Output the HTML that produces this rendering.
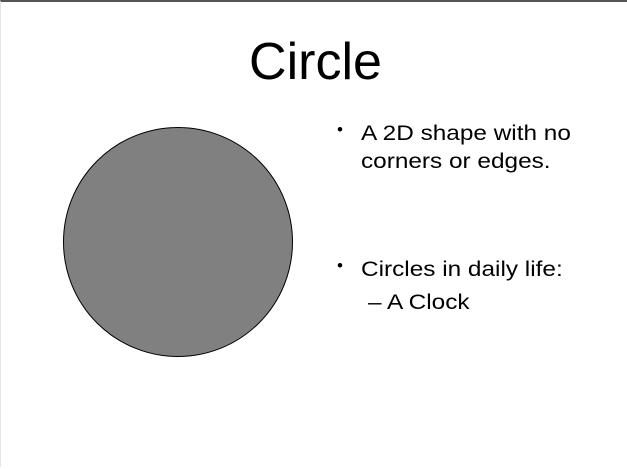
<!DOCTYPE html>
<html><head><meta charset="utf-8"><style>
body{margin:0;width:627px;height:467px;overflow:hidden;background:#fff;font-family:"Liberation Sans",sans-serif;}
.slide{position:absolute;left:0;top:0;width:627px;height:467px;border-top:2px solid #555;border-left:1px solid #e4e4e4;box-sizing:border-box;}
.t{position:absolute;white-space:nowrap;color:#000;}
.b{font-size:21px;line-height:28px;transform:scale(1.16,1);transform-origin:0 0;}
</style></head><body>
<div class="slide">
<div class="t" style="left:1px;width:627px;text-align:center;top:30px;font-size:52px;line-height:60px;">Circle</div>
<svg width="627" height="467" style="position:absolute;left:0;top:0">
<circle cx="177" cy="240" r="114.5" fill="#808080" stroke="#000" stroke-width="1"/>
</svg>
<div class="t" style="left:336px;top:118px;font-size:17px;">•</div>
<div class="t b" style="left:360px;top:118px;">A 2D shape with no<br>corners or edges.</div>
<div class="t" style="left:336px;top:254px;font-size:17px;">•</div>
<div class="t b" style="left:360px;top:254px;">Circles in daily life:</div>
<div class="t b" style="left:367px;top:287px;">– A Clock</div>
</div>
</body></html>
